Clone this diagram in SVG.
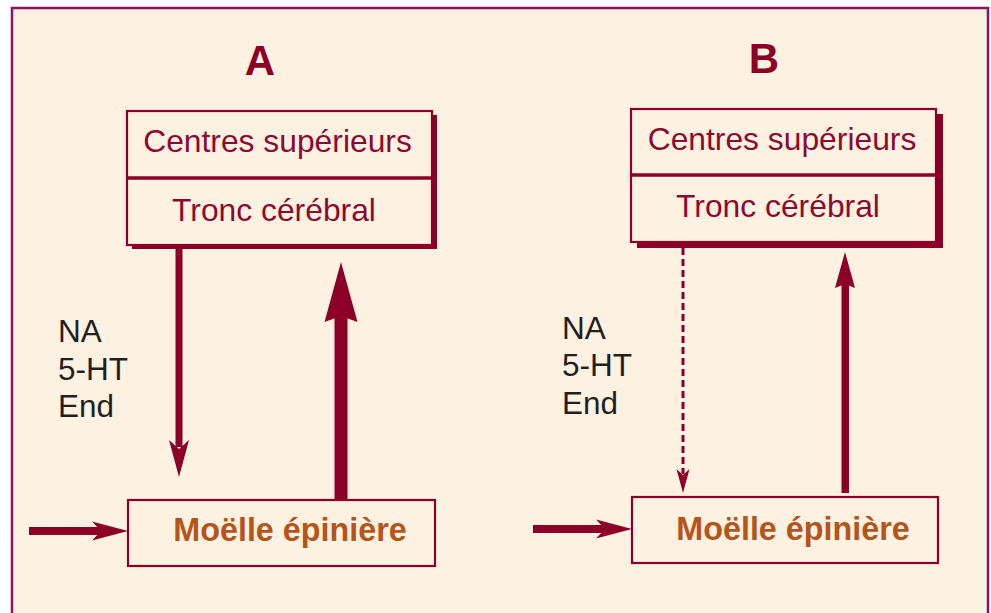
<svg xmlns="http://www.w3.org/2000/svg" width="991" height="613" viewBox="0 0 991 613">
  <style>
    .frame { fill: #fdf1e1; stroke: #8a1260; stroke-width: 2.5; }
    .box { fill: #fdf1e1; stroke: #8c0028; stroke-width: 2.2; }
    .shadow { fill: #8c0028; }
    .div { stroke: #8c0028; stroke-width: 3.5; }
    .ink { fill: #8c0028; }
    .lbl { font-family: "Liberation Sans", Arial, sans-serif; font-size: 31.8px; fill: #8c0a30; text-anchor: middle; }
    .spine { font-family: "Liberation Sans", Arial, sans-serif; font-size: 32.3px; font-weight: bold; fill: #b4561b; text-anchor: middle; }
    .title { font-family: "Liberation Sans", Arial, sans-serif; font-size: 42px; font-weight: bold; fill: #8c0028; text-anchor: middle; }
    .nt { font-family: "Liberation Sans", Arial, sans-serif; font-size: 31.5px; fill: #231f20; }
    .dash { stroke: #8c0028; stroke-width: 3; stroke-dasharray: 7 4; fill: none; }
  </style>

  <rect width="991" height="613" fill="#ffffff"/>
  <rect class="frame" x="12" y="8" width="976" height="620"/>

  <!-- panel titles -->
  <text class="title" x="260" y="75">A</text>
  <text class="title" x="764" y="73">B</text>

  <!-- panel A: upper centres / brainstem -->
  <g id="brainA">
    <rect class="shadow" x="132" y="115" width="305" height="134"/>
    <rect class="box" x="127" y="111" width="305" height="134"/>
    <line class="div" x1="127" y1="178" x2="432" y2="178"/>
    <text class="lbl" x="277.5" y="152">Centres supérieurs</text>
    <text class="lbl" x="274" y="221">Tronc cérébral</text>
  </g>

  <!-- panel A: spinal cord -->
  <g id="spineA">
    <rect class="box" x="128" y="500" width="307" height="66"/>
    <text class="spine" x="290" y="541">Moëlle épinière</text>
  </g>

  <g id="labelsA">
    <text class="nt" x="58" y="342">NA</text>
    <text class="nt" x="58" y="380">5-HT</text>
    <text class="nt" x="58" y="417">End</text>
  </g>

  <!-- panel B: upper centres / brainstem -->
  <g id="brainB">
    <rect class="shadow" x="637" y="114" width="306" height="134"/>
    <rect class="box" x="631" y="109" width="305" height="133"/>
    <line class="div" x1="631" y1="175" x2="936" y2="175"/>
    <text class="lbl" x="782" y="150">Centres supérieurs</text>
    <text class="lbl" x="778" y="217">Tronc cérébral</text>
  </g>

  <!-- panel B: spinal cord -->
  <g id="spineB">
    <rect class="box" x="632" y="497" width="306" height="66"/>
    <text class="spine" x="793" y="540">Moëlle épinière</text>
  </g>

  <g id="labelsB">
    <text class="nt" x="562" y="339">NA</text>
    <text class="nt" x="562" y="376">5-HT</text>
    <text class="nt" x="562" y="414">End</text>
  </g>

  <!-- connectors -->
  <g id="connectors">
    <!-- A: descending control -->
    <rect class="ink" x="175.5" y="245" width="7" height="202"/>
    <polygon class="ink" points="179,477 169,440 179,449 189,440"/>
    <!-- A: ascending pathway (strong) -->
    <rect class="ink" x="334.5" y="316" width="13" height="184"/>
    <polygon class="ink" points="341,262 324.5,322 341,316 357.5,322"/>
    <!-- A: peripheral input -->
    <rect class="ink" x="29" y="527" width="72" height="8"/>
    <polygon class="ink" points="128,531 92,521.5 101,531 92,540.5"/>

    <!-- B: weakened descending control -->
    <line class="dash" x1="683" y1="248" x2="683" y2="474"/>
    <polygon class="ink" points="683,493 676.5,469 683,475 689.5,469"/>
    <!-- B: ascending pathway -->
    <rect class="ink" x="841.5" y="284" width="7.5" height="209"/>
    <polygon class="ink" points="845,252 835,288 845,284 855,288"/>
    <!-- B: peripheral input -->
    <rect class="ink" x="533" y="525" width="72" height="8"/>
    <polygon class="ink" points="632,529 596,519.5 605,529 596,538.5"/>
  </g>
</svg>
